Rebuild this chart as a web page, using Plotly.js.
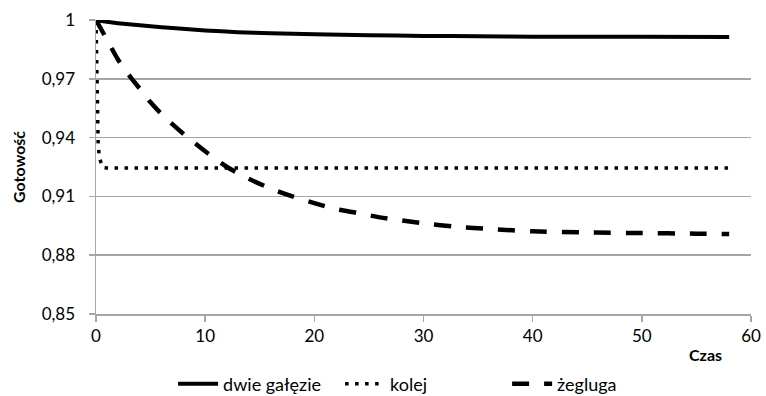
<!DOCTYPE html>
<html>
<head>
<meta charset="utf-8">
<script src="https://cdn.plot.ly/plotly-3.0.1.min.js"></script>
<style>html,body{margin:0;padding:0;background:#fff;}#chart{width:766px;height:396px;}</style>
</head>
<body>
<div id="chart"></div>
<script>
// Data
const seriesNames = ["dwie gałęzie", "kolej", "żegluga"];

const dwieX = [0, 1, 2, 3, 5, 7, 10, 13, 16, 20, 25, 30, 35, 40, 50, 58];
const dwieY = [1, 0.9991, 0.9984, 0.9978, 0.9968, 0.9959, 0.9947, 0.9938, 0.9932, 0.9927, 0.9922, 0.9919, 0.9917, 0.9915, 0.9914, 0.9913];

const kolejX = [0, 0.05, 0.1, 0.2, 0.3, 0.45, 0.6, 1, 10, 20, 30, 40, 50, 58];
const kolejY = [1, 0.975, 0.955, 0.937, 0.93, 0.9265, 0.9248, 0.9245, 0.9245, 0.9245, 0.9245, 0.9245, 0.9245, 0.9245];

const zeglugaX = [0, 1, 2, 3, 4, 5, 6, 8, 10, 12, 14, 16, 18, 20, 22, 24, 26, 28, 30, 33, 36, 40, 45, 50, 55, 58];
const zeglugaY = [1, 0.990, 0.980, 0.972, 0.965, 0.958, 0.952, 0.942, 0.933, 0.925, 0.919, 0.914, 0.910, 0.9066, 0.9035, 0.9015, 0.8993, 0.8977, 0.8963, 0.8945, 0.8934, 0.8922, 0.8916, 0.8913, 0.8910, 0.8908];

const xTickVals = [0, 10, 20, 30, 40, 50, 60];
const yTickVals = [0.85, 0.88, 0.91, 0.94, 0.97, 1];
const yTickLabels = ["0,85", "0,88", "0,91", "0,94", "0,97", "1"];

const FONT = "Lato, 'Open Sans', sans-serif";

const traces = [
  {x: dwieX, y: dwieY, name: seriesNames[0], mode: "lines",
   line: {color: "#000", width: 4, shape: "spline", smoothing: 0.6}},
  {x: kolejX, y: kolejY, name: seriesNames[1], mode: "lines",
   line: {color: "#000", width: 3.5, dash: "3.5px,6.5px", shape: "linear"}},
  {x: zeglugaX, y: zeglugaY, name: seriesNames[2], mode: "lines",
   line: {color: "#000", width: 4.5, dash: "17px,15px", shape: "spline", smoothing: 0.8}}
];

const layout = {
  width: 766, height: 396,
  margin: {l: 96, r: 15, t: 20, b: 82},
  paper_bgcolor: "#fff", plot_bgcolor: "#fff",
  font: {family: FONT, size: 17, color: "#000"},
  showlegend: true,
  legend: {orientation: "h", x: 0.553, xanchor: "center", xref: "container",
           y: 0.03, yanchor: "middle", yref: "container",
           font: {family: FONT, size: 18, color: "#000"}, itemwidth: 40,
           entrywidth: 112, entrywidthmode: "pixels", traceorder: "normal"},
  xaxis: {range: [0, 60], tickvals: xTickVals, ticktext: xTickVals.map(String),
          showgrid: false, zeroline: false, showline: true, linecolor: "#a6a6a6", linewidth: 1.5,
          ticks: "outside", ticklen: 6, tickcolor: "#a6a6a6", tickwidth: 1.5,
          tickfont: {family: FONT, size: 17, color: "#000"}, fixedrange: true},
  yaxis: {range: [0.85, 1], tickvals: yTickVals, ticktext: yTickLabels,
          showgrid: true, gridcolor: "#a6a6a6", gridwidth: 1.5, zeroline: false,
          showline: true, linecolor: "#a6a6a6", linewidth: 1.5,
          ticks: "outside", ticklen: 6, tickcolor: "#a6a6a6", tickwidth: 1.5,
          ticklabelstandoff: 10,
          tickfont: {family: FONT, size: 17, color: "#000"}, fixedrange: true},
  annotations: [
    {text: "<b>Gotowość</b>", xref: "paper", yref: "paper", x: -0.119, y: 0.5,
     textangle: -90, showarrow: false, xanchor: "center", yanchor: "middle",
     font: {family: FONT, size: 16, color: "#000"}},
    {text: "<b>Czas</b>", xref: "paper", yref: "paper", x: 0.93, y: -0.139,
     showarrow: false, xanchor: "center", yanchor: "middle",
     font: {family: FONT, size: 16, color: "#000"}}
  ]
};

Plotly.newPlot("chart", traces, layout, {displayModeBar: false, staticPlot: true});
</script>
</body>
</html>
